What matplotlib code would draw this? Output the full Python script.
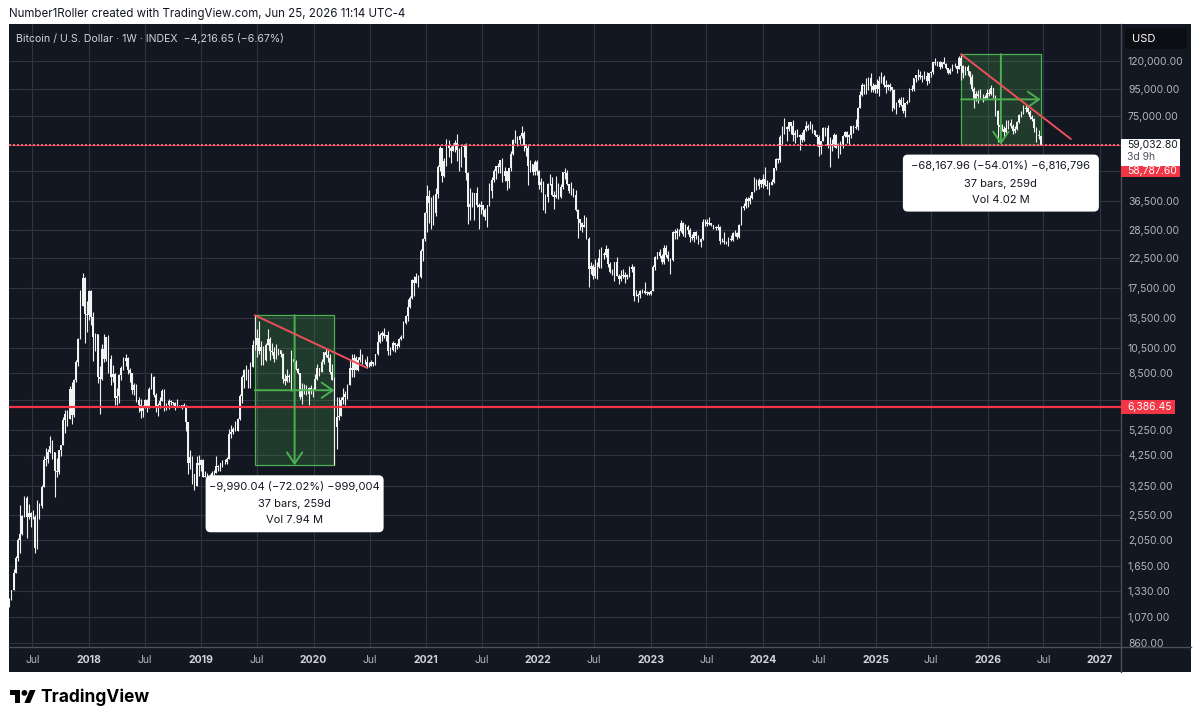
import numpy as np
import matplotlib
matplotlib.use("Agg")
import matplotlib.pyplot as plt
import matplotlib.dates as mdates
from matplotlib.patches import Rectangle, FancyBboxPatch, Polygon, Circle
from matplotlib.transforms import IdentityTransform
from matplotlib.lines import Line2D

plt.rcParams["font.family"] = ["Inter", "DejaVu Sans"]

W, H = 1200, 725
BG = "#131722"
GRID = "#30343f"
SEP = "#4b4f5a"
CANDLE = "#f2f2f2"
GREEN = "#4caf50"
RED = "#f23645"
AXTXT = "#b2b5be"

header = "Number1Roller created with TradingView.com, Jun 25, 2026 11:14 UTC-4"
title = "Bitcoin / U.S. Dollar · 1W · INDEX  −4,216.65 (−6.67%)"

# weekly candles (high, low, close) in thousands of USD, one list per calendar year
w2017 = [(1.26, 1.17, 1.25), (1.35, 1.24, 1.35), (1.61, 1.35, 1.56), (1.80, 1.56, 1.77), (2.10, 1.72, 2.05),
         (2.76, 1.85, 2.16), (2.55, 2.15, 2.52), (2.98, 2.50, 2.95), (2.98, 2.10, 2.50), (2.80, 2.45, 2.58),
         (2.60, 2.30, 2.50), (2.65, 2.45, 2.50), (2.55, 1.84, 1.93), (2.90, 1.90, 2.75), (2.82, 2.45, 2.75),
         (3.28, 2.70, 3.23), (4.20, 3.22, 4.06), (4.48, 3.85, 4.10), (4.45, 3.95, 4.35), (4.98, 4.30, 4.58),
         (4.80, 4.10, 4.33), (4.35, 2.97, 3.70), (4.13, 3.50, 3.67), (4.40, 3.60, 4.40), (4.62, 4.20, 4.60),
         (5.85, 4.60, 5.70), (6.20, 5.10, 6.00), (6.20, 5.40, 5.75), (7.60, 5.75, 7.40), (7.88, 5.50, 5.95),
         (8.10, 5.85, 8.00), (9.50, 7.90, 9.30), (11.40, 9.00, 11.30), (17.20, 11.30, 15.00),
         (19.80, 15.00, 19.10), (19.20, 11.00, 14.00), (15.60, 12.00, 13.90)]
w2018 = [(17.25, 13.30, 17.10), (17.20, 12.80, 13.70), (14.20, 9.40, 11.50), (11.90, 10.20, 11.80),
         (11.80, 7.80, 8.20), (9.00, 6.00, 8.10), (10.90, 8.00, 10.40), (11.80, 9.30, 9.60), (11.50, 9.40, 11.50),
         (11.70, 8.50, 9.55), (9.90, 7.70, 8.20), (9.10, 7.90, 8.45), (8.50, 6.50, 6.85), (7.50, 6.45, 7.00),
         (8.40, 6.60, 8.35), (9.00, 8.00, 8.90), (9.75, 8.70, 9.40), (9.95, 9.00, 9.65), (9.70, 8.40, 8.70),
         (8.85, 7.90, 8.50), (8.40, 7.10, 7.35), (7.80, 7.05, 7.70), (7.75, 6.65, 6.78), (6.90, 6.10, 6.50),
         (6.80, 5.80, 6.15), (6.50, 5.85, 6.38), (6.80, 6.30, 6.75), (6.80, 6.10, 6.35), (7.55, 6.30, 7.40),
         (8.50, 7.40, 8.20), (8.25, 6.95, 7.03), (7.15, 6.10, 6.30), (6.60, 5.90, 6.50), (6.90, 6.30, 6.70),
         (7.40, 6.70, 7.30), (7.40, 6.15, 6.25), (6.60, 6.20, 6.50), (6.80, 6.25, 6.70), (6.75, 6.50, 6.62),
         (6.65, 6.50, 6.60), (6.65, 6.20, 6.30), (6.80, 6.35, 6.42), (6.50, 6.40, 6.40), (6.50, 6.25, 6.48),
         (6.60, 6.35, 6.35), (6.45, 5.20, 5.60), (5.60, 3.60, 3.95), (4.40, 3.75, 4.15), (4.20, 3.30, 3.60),
         (3.60, 3.15, 3.25), (4.20, 3.25, 3.95), (4.25, 3.55, 3.90), (4.10, 3.70, 4.05)]
w2019 = [(4.10, 3.50, 3.50), (3.70, 3.50, 3.55), (3.65, 3.50, 3.55), (3.60, 3.35, 3.45), (3.70, 3.40, 3.65),
         (3.72, 3.56, 3.65), (4.20, 3.65, 3.85), (3.90, 3.70, 3.82), (3.95, 3.70, 3.95), (4.05, 3.83, 4.00),
         (4.10, 3.92, 4.00), (4.15, 3.93, 4.10), (5.30, 4.10, 5.05), (5.45, 4.90, 5.15), (5.35, 5.05, 5.30),
         (5.65, 5.20, 5.20), (5.80, 5.20, 5.75), (7.10, 5.70, 7.00), (8.35, 6.60, 8.20), (8.80, 7.50, 8.75),
         (9.10, 8.00, 8.75), (8.80, 7.45, 7.65), (9.30, 7.50, 8.95), (11.20, 8.95, 10.80), (13.87, 10.30, 10.80),
         (12.30, 9.70, 11.40), (13.20, 10.00, 10.20), (11.10, 9.10, 10.55), (10.65, 9.10, 9.50),
         (10.95, 9.40, 10.80), (12.30, 10.80, 11.30), (11.50, 9.50, 10.20), (10.95, 9.90, 10.15),
         (10.60, 9.35, 9.60), (10.90, 9.60, 10.40), (10.45, 9.90, 10.35), (10.35, 9.70, 10.00),
         (10.05, 7.80, 8.05), (8.45, 7.70, 7.95), (8.80, 7.85, 8.30), (8.40, 7.90, 8.20), (10.35, 7.30, 9.55),
         (9.95, 9.00, 9.30), (9.50, 8.70, 8.80), (8.90, 8.40, 8.50), (8.50, 6.80, 6.90), (7.80, 6.55, 7.40),
         (7.75, 7.10, 7.50), (7.65, 7.05, 7.10), (7.55, 6.45, 7.50), (7.70, 7.10, 7.30), (7.50, 6.90, 7.35)]
w2020 = [(8.45, 7.35, 8.05), (9.20, 8.00, 8.90), (8.90, 8.25, 8.60), (9.60, 8.55, 9.35), (10.15, 9.15, 10.15),
         (10.50, 9.70, 9.90), (10.30, 9.30, 9.65), (9.95, 8.40, 8.55), (9.20, 8.00, 8.00), (8.20, 3.88, 5.35),
         (6.90, 4.45, 5.85), (6.95, 5.70, 5.88), (6.95, 5.88, 6.77), (7.45, 6.55, 6.90), (7.30, 6.45, 7.13),
         (7.75, 6.80, 7.70), (9.45, 7.65, 8.90), (10.00, 8.20, 8.72), (9.95, 8.20, 9.68), (9.85, 8.70, 8.72),
         (9.70, 8.65, 9.45), (10.40, 9.30, 9.75), (9.95, 9.20, 9.35), (9.60, 9.20, 9.30), (9.80, 8.90, 9.00),
         (9.30, 8.95, 9.05), (9.45, 9.00, 9.30), (9.35, 9.05, 9.20), (9.95, 9.10, 9.95), (12.10, 9.90, 11.05),
         (11.90, 11.00, 11.68), (12.10, 11.15, 11.90), (12.45, 11.40, 11.65), (11.75, 11.10, 11.70),
         (12.10, 9.90, 10.25), (10.60, 9.90, 10.33), (11.10, 10.20, 10.95), (10.95, 10.15, 10.75),
         (10.95, 10.40, 10.68), (11.45, 10.55, 11.38), (11.70, 11.20, 11.50), (13.20, 11.40, 13.03),
         (13.85, 12.90, 13.75), (15.95, 13.20, 14.85), (16.35, 14.80, 16.00), (18.80, 15.90, 18.65),
         (19.40, 16.30, 18.20), (19.90, 18.20, 19.15), (19.45, 17.60, 19.15), (24.30, 19.00, 24.00),
         (26.80, 21.90, 26.45), (33.30, 26.10, 33.00)]
w2021 = [(41.95, 28.00, 38.20), (40.00, 30.40, 36.00), (37.85, 28.80, 32.30), (38.50, 29.90, 33.10),
         (40.95, 32.30, 38.90), (49.70, 37.40, 48.90), (58.35, 47.00, 57.50), (57.50, 43.00, 45.20),
         (52.60, 44.90, 51.20), (61.80, 49.30, 59.00), (61.20, 53.30, 57.50), (58.40, 50.40, 55.80),
         (60.00, 55.70, 58.20), (61.20, 55.50, 59.80), (64.85, 51.50, 56.20), (57.50, 47.00, 49.00),
         (58.40, 48.80, 57.80), (59.50, 53.00, 58.20), (59.60, 43.80, 46.40), (46.60, 30.00, 34.70),
         (40.90, 31.20, 35.70), (39.50, 34.90, 35.80), (39.20, 31.00, 39.10), (41.30, 34.80, 35.50),
         (36.00, 28.80, 34.70), (36.60, 32.70, 35.30), (35.10, 32.10, 33.80), (34.60, 31.10, 31.80),
         (35.40, 29.30, 35.40), (42.60, 35.20, 39.90), (44.80, 37.50, 43.80), (48.10, 42.80, 47.00),
         (49.40, 43.90, 49.30), (50.50, 46.40, 48.90), (51.90, 46.50, 51.75), (52.90, 43.00, 45.20),
         (48.80, 43.40, 47.30), (45.00, 40.00, 43.20), (48.50, 40.80, 48.20), (56.00, 47.10, 54.70),
         (62.00, 53.90, 61.50), (67.00, 59.90, 61.00), (63.70, 58.10, 61.30), (64.30, 59.50, 63.30),
         (69.00, 62.30, 65.00), (66.30, 55.70, 58.60), (59.30, 53.50, 57.30), (59.10, 42.00, 49.40),
         (51.90, 46.80, 50.10), (50.10, 45.60, 46.70), (51.90, 45.60, 50.80), (52.00, 45.70, 47.30)]
w2022 = [(47.50, 40.50, 41.80), (44.40, 39.60, 43.10), (43.50, 34.00, 36.30), (38.90, 32.90, 37.90),
         (42.60, 36.30, 42.40), (45.80, 41.80, 42.20), (44.70, 38.00, 38.40), (39.80, 34.30, 37.70),
         (45.40, 37.50, 38.40), (42.50, 37.10, 37.80), (42.30, 37.60, 41.30), (46.90, 40.50, 46.80),
         (48.20, 44.20, 46.40), (47.50, 41.90, 42.20), (42.40, 39.20, 39.70), (42.90, 38.60, 39.50),
         (40.80, 37.70, 38.50), (40.00, 33.70, 34.00), (34.30, 26.70, 31.30), (31.40, 28.60, 30.30),
         (30.60, 28.00, 29.40), (32.40, 29.30, 29.90), (31.80, 26.60, 26.60), (26.90, 17.60, 20.60),
         (21.80, 19.60, 21.00), (21.50, 18.80, 19.30), (22.40, 19.00, 20.85), (21.70, 18.90, 20.80),
         (24.30, 20.70, 22.60), (24.70, 20.70, 23.30), (23.65, 22.40, 23.20), (25.20, 22.70, 24.30),
         (24.50, 20.80, 21.50), (21.80, 19.80, 20.00), (20.60, 19.50, 19.95), (21.85, 18.50, 21.80),
         (22.80, 19.30, 19.40), (19.70, 18.15, 18.80), (20.40, 18.50, 19.30), (20.50, 19.10, 19.45),
         (19.95, 18.20, 19.20), (19.70, 18.90, 19.55), (21.00, 19.25, 20.60), (21.45, 20.05, 20.90),
         (21.00, 15.60, 16.30), (17.20, 16.30, 16.30), (16.80, 15.50, 16.45), (17.20, 16.00, 17.10),
         (17.40, 16.75, 17.10), (18.40, 16.55, 16.75), (17.10, 16.40, 16.85), (16.95, 16.45, 16.60)]
w2023 = [(17.20, 16.50, 17.10), (21.20, 17.00, 20.90), (23.00, 20.40, 22.70), (23.80, 22.30, 23.75),
         (24.25, 22.50, 22.95), (23.40, 21.40, 21.80), (25.25, 21.50, 24.60), (25.10, 22.80, 23.20),
         (23.90, 21.90, 22.40), (22.60, 19.60, 22.10), (28.40, 21.90, 28.00), (28.90, 26.60, 27.95),
         (29.20, 26.55, 28.45), (28.80, 27.20, 28.35), (31.00, 28.00, 30.30), (30.50, 27.10, 27.60),
         (30.00, 26.95, 29.25), (29.80, 27.70, 28.70), (29.00, 25.80, 26.90), (27.70, 26.30, 26.75),
         (28.20, 25.90, 28.10), (28.45, 26.60, 27.20), (27.40, 25.40, 25.85), (26.80, 24.80, 26.50),
         (31.40, 26.25, 30.50), (31.30, 29.50, 30.60), (31.50, 29.70, 30.17), (31.80, 29.90, 30.25),
         (30.40, 29.50, 29.80), (29.90, 28.90, 29.30), (29.70, 28.60, 29.05), (30.20, 28.70, 29.40),
         (29.70, 25.30, 26.10), (26.80, 25.80, 26.00), (28.10, 25.40, 25.85), (26.10, 25.40, 25.85),
         (26.90, 24.90, 26.55), (27.50, 26.00, 26.25), (28.10, 26.00, 27.95), (28.60, 27.20, 27.95),
         (28.00, 26.55, 26.85), (30.20, 26.80, 29.90), (35.00, 29.90, 34.50), (35.90, 33.90, 35.00),
         (37.95, 34.50, 37.05), (37.80, 34.80, 36.55), (38.40, 35.60, 37.45), (39.50, 37.20, 39.45),
         (44.70, 39.40, 43.80), (44.00, 40.20, 41.40), (44.40, 40.60, 43.70), (43.80, 41.30, 42.30)]
w2024 = [(45.90, 40.70, 43.95), (49.00, 41.50, 41.75), (43.60, 40.50, 41.60), (42.80, 38.50, 42.00),
         (43.90, 41.80, 43.00), (48.60, 42.60, 48.30), (52.80, 47.70, 52.15), (52.90, 50.60, 51.75),
         (64.00, 50.90, 63.10), (69.20, 59.00, 68.30), (73.80, 64.50, 68.40), (68.90, 60.80, 67.20),
         (71.75, 66.50, 71.30), (71.30, 64.50, 69.35), (72.80, 60.70, 63.90), (66.90, 59.60, 64.95),
         (67.20, 62.80, 63.10), (64.70, 56.50, 64.00), (65.50, 60.20, 61.50), (67.50, 60.70, 66.95),
         (71.95, 66.30, 69.30), (70.60, 66.70, 67.75), (71.95, 67.60, 69.65), (70.20, 65.10, 66.65),
         (66.90, 63.40, 64.25), (64.50, 58.40, 62.70), (63.80, 53.50, 58.00), (61.00, 54.30, 60.80),
         (68.40, 60.70, 68.20), (68.50, 63.50, 68.25), (70.00, 57.20, 58.10), (62.70, 49.00, 58.70),
         (61.80, 56.10, 59.50), (65.00, 57.80, 64.20), (64.50, 57.20, 57.30), (59.80, 52.60, 54.85),
         (60.70, 54.60, 59.15), (64.10, 57.50, 63.35), (66.50, 62.70, 65.60), (66.00, 59.80, 62.80),
         (64.50, 58.90, 63.90), (69.40, 62.40, 69.00), (69.50, 65.10, 68.00), (73.60, 67.50, 68.75),
         (81.50, 66.80, 80.40), (93.40, 80.20, 89.80), (99.60, 89.40, 97.90), (98.70, 90.80, 97.20),
         (103.90, 90.50, 101.15), (105.20, 94.20, 104.30), (108.30, 92.20, 97.30), (99.90, 92.00, 93.75),
         (99.00, 91.50, 98.30)]
w2025 = [(102.70, 91.20, 94.50), (106.00, 89.30, 101.30), (109.50, 99.50, 104.70), (106.50, 96.00, 97.70),
         (102.50, 91.20, 96.50), (98.80, 94.10, 97.60), (99.50, 93.40, 96.10), (96.50, 78.20, 94.20),
         (95.00, 80.00, 80.70), (84.50, 76.60, 84.00), (87.40, 81.20, 86.10), (88.70, 81.60, 82.40),
         (88.50, 77.10, 78.40), (84.00, 74.50, 83.80), (86.50, 83.00, 85.10), (95.70, 85.10, 93.70),
         (97.90, 92.80, 94.30), (104.30, 93.40, 104.10), (106.70, 100.80, 106.40), (111.90, 102.00, 107.00),
         (110.70, 103.10, 105.00), (106.80, 100.40, 105.70), (110.40, 102.70, 105.60), (108.90, 98.20, 100.90),
         (108.50, 99.60, 108.40), (110.60, 105.10, 109.20), (119.50, 107.50, 119.10), (123.20, 115.80, 117.90),
         (120.20, 114.70, 119.40), (119.80, 112.00, 114.20), (119.40, 112.70, 119.30), (124.50, 116.80, 117.40),
         (117.60, 111.70, 113.50), (113.40, 107.30, 108.30), (113.30, 107.30, 111.10), (116.70, 110.60, 115.30),
         (117.90, 114.50, 115.30), (115.40, 108.60, 112.20), (125.70, 111.80, 123.50), (127.20, 102.00, 115.00),
         (116.00, 103.50, 108.60), (115.50, 106.80, 114.50), (116.40, 106.30, 110.50), (110.70, 98.90, 104.70),
         (107.50, 93.00, 94.30), (96.60, 80.60, 86.80), (93.00, 85.30, 90.40), (94.10, 83.90, 89.40),
         (94.50, 87.50, 88.20), (90.50, 84.50, 88.30), (90.00, 86.50, 87.80), (94.80, 86.80, 91.50)]
w2026 = [(94.70, 89.30, 90.60), (97.90, 90.20, 95.10), (95.50, 87.50, 89.00), (89.80, 75.00, 78.60),
         (79.50, 60.10, 70.00), (71.80, 65.50, 68.80), (70.50, 66.20, 67.50), (68.90, 63.00, 65.90),
         (72.50, 65.00, 68.20), (72.80, 67.40, 71.00), (73.50, 68.00, 69.00), (70.20, 64.80, 66.50),
         (68.90, 65.20, 67.20), (72.30, 66.80, 71.50), (76.50, 70.90, 75.80), (78.80, 74.60, 77.50),
         (82.50, 76.80, 79.80), (82.90, 78.10, 80.50), (81.20, 76.50, 78.00), (79.00, 73.20, 74.50),
         (75.80, 72.00, 73.50), (74.20, 65.50, 67.80), (68.60, 60.50, 64.00), (66.80, 61.80, 63.24945),
         (63.60, 58.7876, 59.0328)]
years = [w2017, w2018, w2019, w2020, w2021, w2022, w2023, w2024, w2025, w2026]
first_week = ["2017-04-17", "2018-01-01", "2019-01-07", "2020-01-06", "2021-01-04",
              "2022-01-03", "2023-01-02", "2024-01-01", "2025-01-06", "2026-01-05"]
first_open = 1.18

price_ticks = [120000, 95000, 75000, 59000, 47000, 36500, 28500, 22500, 17500, 13500, 10500,
               8500, 6750, 5250, 4250, 3250, 2550, 2050, 1650, 1330, 1070, 860]
hidden_ticks = [59000, 47000, 6750]
time_ticks = ["2017-07-01", "2018-01-01", "2018-07-01", "2019-01-01", "2019-07-01", "2020-01-01",
              "2020-07-01", "2021-01-01", "2021-07-01", "2022-01-01", "2022-07-01", "2023-01-01",
              "2023-07-01", "2024-01-01", "2024-07-01", "2025-01-01", "2025-07-01", "2026-01-01",
              "2026-07-01", "2027-01-01"]
time_labels = ["Jul", "2018", "Jul", "2019", "Jul", "2020", "Jul", "2021", "Jul", "2022", "Jul",
               "2023", "Jul", "2024", "Jul", "2025", "Jul", "2026", "Jul", "2027"]

# drawings on the chart
support = 6386.45
last_price = 59032.80
last_mark = 58787.60
range_a = ("2019-06-24", "2020-03-09", 13871.16, 3881.12)
range_b = ("2025-10-06", "2026-06-22", 127200.76, 59032.80)
trend_a = (("2019-06-24", 13871.16), ("2020-06-22", 8880))
trend_b = (("2025-10-06", 127200.76), ("2026-09-28", 61900))
stats_a = ["−9,990.04 (−72.02%) −999,004", "37 bars, 259d", "Vol 7.94 M"]
stats_b = ["−68,167.96 (−54.01%) −6,816,796", "37 bars, 259d", "Vol 4.02 M"]


def d(s):
    return mdates.date2num(np.datetime64(s))


dates, hi, lo, cl = [], [], [], []
for start, seg in zip(first_week, years):
    for i, (h, l, c) in enumerate(seg):
        dates.append(np.datetime64(start) + np.timedelta64(7 * i, "D"))
        hi.append(h * 1000)
        lo.append(l * 1000)
        cl.append(c * 1000)
x = mdates.date2num(np.array(dates))
hi, lo, cl = np.array(hi), np.array(lo), np.array(cl)
op = np.r_[first_open * 1000, cl[:-1]]

fig = plt.figure(figsize=(12, 7.25), dpi=100, facecolor="white")
ident = IdentityTransform()
fig.add_artist(Rectangle((9, H - 672), 1182, 648, transform=ident, fc=BG, ec="none", zorder=-5))

ax = fig.add_axes([9 / W, (H - 647) / H, (1121 - 9) / W, (647 - 24) / H])
ax.set_facecolor(BG)
ax.set_yscale("log")
ax.set_ylim(830, 164300)
ax.set_xlim(d("2017-04-16"), d("2027-03-10"))

# candles
ax.vlines(x, lo, hi, color=CANDLE, lw=0.8, zorder=3)
b_lo = np.minimum(op, cl)
b_hi = np.maximum(op, cl)
ax.bar(x, b_hi - b_lo, bottom=b_lo, width=5.2, color=CANDLE, lw=0, zorder=3)

# axes look
ax.yaxis.tick_right()
ax.set_yticks(price_ticks)
ax.set_yticklabels(["" if v in hidden_ticks else f"{v:,.2f}" for v in price_ticks])
ax.minorticks_off()
ax.set_xticks([d(t) for t in time_ticks])
ax.set_xticklabels(time_labels)
ax.tick_params(axis="both", length=0, colors=AXTXT, labelsize=7.5)
ax.tick_params(axis="y", pad=5)
ax.tick_params(axis="x", pad=5.5)
for lab in ax.get_xticklabels():
    if lab.get_text() != "Jul":
        lab.set_fontweight("bold")
        lab.set_color("#d1d4dc")
ax.grid(True, color=GRID, lw=0.8)
ax.set_axisbelow(True)
for s in ax.spines.values():
    s.set_visible(False)

fig.add_artist(Line2D([1121, 1121], [H - 672, H - 24], transform=ident, color=SEP, lw=1, zorder=6))
fig.add_artist(Line2D([9, 1191], [H - 647, H - 647], transform=ident, color=SEP, lw=1, zorder=6))

# horizontal levels
ax.axhline(support, color=RED, lw=1.6, zorder=4)
ax.axhline(last_mark, color=RED, lw=0.8, alpha=0.8, zorder=4)
ax.axhline(last_price, color="#ff7b86", lw=1.2, ls=(0, (1.2, 1.2)), zorder=4)

# date and price ranges
arrow = dict(arrowstyle="->,head_length=0.8,head_width=0.55", color=GREEN, lw=1.4,
             shrinkA=0, shrinkB=0)
for (t0, t1, top, bot), stats, bw in [(range_a, stats_a, 178), (range_b, stats_b, 196)]:
    x0, x1 = d(t0), d(t1)
    ax.add_patch(Rectangle((x0, bot), x1 - x0, top - bot, fc=(0.30, 0.69, 0.31, 0.24),
                           ec=GREEN, lw=0.9, zorder=2))
    xm = (x0 + x1) / 2
    ym = np.sqrt(top * bot)
    ax.annotate("", xy=(xm, bot), xytext=(xm, top), arrowprops=arrow, zorder=5)
    ax.annotate("", xy=(x1, ym), xytext=(x0, ym), arrowprops=arrow, zorder=5)
    cx, by = ax.transData.transform((xm, bot))
    top_px = by - 10
    fig.add_artist(FancyBboxPatch((cx - bw / 2, top_px - 57), bw, 57,
                                  boxstyle="round,pad=0,rounding_size=5", transform=ident,
                                  fc="white", ec="none", zorder=8))
    for k, line in enumerate(stats):
        fig.text(cx / W, (top_px - [11, 29, 45][k]) / H, line, ha="center", va="center",
                 size=8, color="#131722", zorder=9)

for (da, pa), (db, pb) in [trend_a, trend_b]:
    ax.plot([d(da), d(db)], [pa, pb], color="#ec4f5a", lw=1.4, zorder=6, solid_capstyle="round")

# price axis labels
def py(p):
    return ax.transData.transform((x[0], p))[1]


yl = py(last_price)
fig.add_artist(Rectangle((1121, yl - 21), 59, 27, transform=ident, fc="white", ec="none", zorder=8))
fig.add_artist(Rectangle((1121, yl - 32), 59, 11, transform=ident, fc=RED, ec="none", zorder=8))
fig.text(1127 / W, yl / H, f"{last_price:,.2f}", size=7.5, color="#131722", va="center", zorder=9)
fig.text(1127 / W, (yl - 12) / H, "3d 9h", size=7.5, color="#50535e", va="center", zorder=9)
fig.text(1127 / W, (yl - 26.5) / H, f"{last_mark:,.2f}", size=7.5, color="white", va="center", zorder=9)
ys = py(support)
fig.add_artist(Rectangle((1121, ys - 7), 54, 13.5, transform=ident, fc=RED, ec="none", zorder=8))
fig.text(1127 / W, ys / H, f"{support:,.2f}", size=7.5, color="white", va="center", zorder=9)

fig.add_artist(FancyBboxPatch((1125, H - 49), 62, 21, boxstyle="round,pad=0,rounding_size=3",
                              transform=ident, fc="#0c0e14", ec="none", zorder=8))
fig.text(1132 / W, (H - 39) / H, "USD", size=8, color="white", va="center", zorder=9)

# texts
fig.text(9 / W, 1 - 14 / H, header, size=8.3, color="#131722", va="center")
fig.text(16 / W, 1 - 38 / H, title, size=7.6, color="#d1d4dc", va="center")

# TradingView logo
s = 0.72


def lp(u, v):
    return (10 + s * u, H - (690 + s * (v - 4)))


fig.add_artist(Polygon([lp(0, 4), lp(14, 4), lp(14, 22), lp(7, 22), lp(7, 11), lp(0, 11)],
                       closed=True, transform=ident, fc="black", ec="none"))
fig.add_artist(Circle(lp(20, 8), 4 * s, transform=ident, fc="black", ec="none"))
fig.add_artist(Polygon([lp(28, 22), lp(20, 22), lp(27.5, 4), lp(35.5, 4)],
                       closed=True, transform=ident, fc="black", ec="none"))
fig.text(40 / W, 1 - 697 / H, "TradingView", size=12.5, weight="bold", color="black", va="center")

fig.savefig("out.png", dpi=100, facecolor="white")
